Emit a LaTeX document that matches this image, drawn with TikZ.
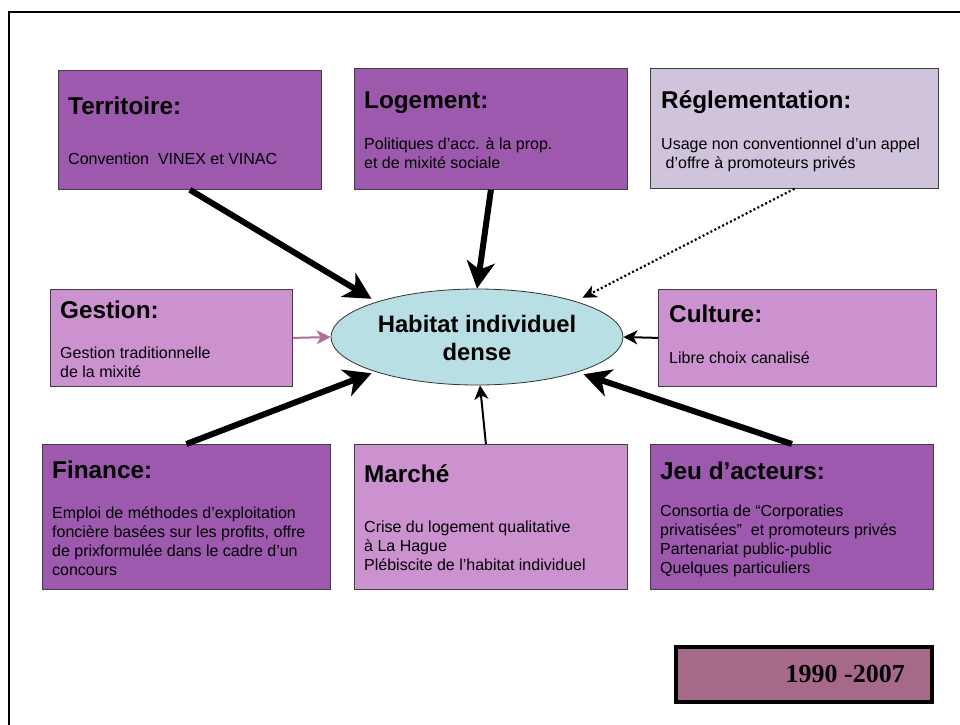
\documentclass[tikz,border=0pt]{standalone}
\usepackage{fontspec}
\setmainfont{Liberation Sans}
\newfontfamily\datefont{Liberation Serif}
\usetikzlibrary{arrows.meta,shapes.geometric}

\definecolor{plumdark}{RGB}{156,89,174}
\definecolor{plumlight}{RGB}{204,146,208}
\definecolor{plumpale}{RGB}{208,196,220}
\definecolor{centrefill}{RGB}{184,224,228}
\definecolor{datefill}{RGB}{166,106,136}
\definecolor{mauvearrow}{RGB}{176,112,150}

\begin{document}
\begin{tikzpicture}[x=1pt,y=-1pt,
  panel/.style={draw=black!75, line width=0.8pt, inner sep=0pt, anchor=north west},
  heading/.style={anchor=base west, inner sep=0pt, font=\fontsize{24.3}{29}\selectfont\bfseries},
  % multi-line texts are placed by the baseline of their last line
  detail/.style={anchor=base west, inner sep=0pt, align=left, font=\fontsize{16}{19}\selectfont},
  heavy/.style={line width=6pt, -{Stealth[length=27pt,width=28pt,inset=8pt]}},
  light/.style={line width=2pt, -{Stealth[length=14pt,width=14pt,inset=4pt]}}
]
\useasboundingbox (0,0) rectangle (960,724);
\fill[white] (0,0) rectangle (960,724);

% outer frame (right and bottom sides run off the page)
\draw[line width=2pt] (9,12) rectangle (990,760);

% factor panels
\node[panel, fill=plumdark, minimum width=263pt, minimum height=119pt] (terr) at (58,70) {};
\node[panel, fill=plumdark, minimum width=273pt, minimum height=121pt] (logt) at (354,68) {};
\node[panel, fill=plumpale, minimum width=288pt, minimum height=120pt] (regl) at (650,68) {};
\node[panel, fill=plumlight, minimum width=242pt, minimum height=97pt] (gest) at (50,289) {};
\node[panel, fill=plumlight, minimum width=278pt, minimum height=97pt] (cult) at (658,289) {};
\node[panel, fill=plumdark, minimum width=288pt, minimum height=145pt] (fin) at (42,444) {};
\node[panel, fill=plumlight, minimum width=273pt, minimum height=145pt] (mar) at (354,444) {};
\node[panel, fill=plumdark, minimum width=283pt, minimum height=145pt] (jeu) at (650,444) {};

% central ellipse
\node[ellipse, draw=black!80, line width=0.8pt, fill=centrefill,
      minimum width=292pt, minimum height=96pt, inner sep=0pt] (hab) at (477,337) {};
\node[anchor=base, inner sep=0pt, align=center,
      font=\fontsize{23.8}{28}\selectfont\bfseries] (habtxt) at (477,360)
      {Habitat individuel\\dense};

% panel texts
\node[heading] (terrH) at (68,114) {Territoire:};
\node[detail]  (terrT) at (68,164) {Convention\ \ VINEX et VINAC};

\node[heading] (logtH) at (364,108) {Logement:};
\node[detail]  (logtT) at (364,168) {Politiques d’acc. à la prop.\\et de mixité sociale};

\node[heading] (reglH) at (661,108) {Réglementation:};
\node[detail]  (reglT) at (661,168) {Usage non conventionnel d’un appel\\\ d’offre à promoteurs privés};

\node[heading] (gestH) at (60,318) {Gestion:};
\node[detail]  (gestT) at (60,377) {Gestion traditionnelle\\de la mixité};

\node[heading] (cultH) at (669,322) {Culture:};
\node[detail]  (cultT) at (669,363) {Libre choix canalisé};

\node[heading] (finH) at (52,478) {Finance:};
\node[detail]  (finT) at (52,575) {Emploi de méthodes d’exploitation\\foncière basées sur les profits, offre\\de prixformulée dans le cadre d’un\\concours};

\node[heading] (marH) at (364,482) {Marché};
\node[detail]  (marT) at (364,570) {Crise du logement qualitative\\à La Hague\\Plébiscite de l’habitat individuel};

\node[heading] (jeuH) at (660,479) {Jeu d’acteurs:};
\node[detail]  (jeuT) at (660,573) {Consortia de “Corporaties\\privatisées”\ \ et promoteurs privés\\Partenariat public-public\\Quelques particuliers};

% period box
\node[panel, draw=black, line width=4pt, fill=datefill,
      minimum width=256pt, minimum height=55pt] (period) at (674,645) {};
\node[anchor=base east, inner sep=0pt, font=\datefont\fontsize{26}{30}\selectfont\bfseries]
      (periodT) at (905,682) {1990 -2007};

% influences on the centre
\draw[heavy] (terr.south) -- ([shift={(-2pt,4pt)}]hab.north west);
\draw[heavy] (logt.south) -- (hab.north);
\draw[line width=2.2pt, dash pattern=on 2pt off 2.4pt,
      -{Stealth[length=14pt,width=13pt,inset=4pt]}]
      (regl.south) -- ([shift={(2pt,5pt)}]hab.north east);
\draw[light, draw=mauvearrow] (gest.east) -- (hab.west);
\draw[light] (cult.west) -- (hab.east);
\draw[heavy] (fin.north) -- ([shift={(-2pt,-2pt)}]hab.south west);
\draw[light] ([xshift=-5pt]mar.north) -- ([xshift=3pt]hab.south);
\draw[heavy] (jeu.north) -- ([shift={(3pt,-3pt)}]hab.south east);
\end{tikzpicture}
\end{document}
